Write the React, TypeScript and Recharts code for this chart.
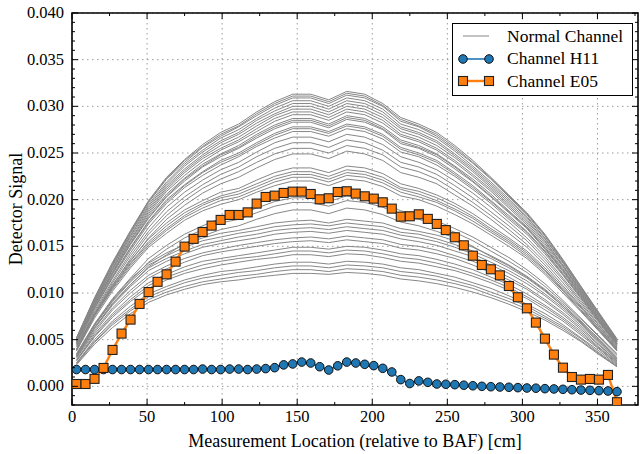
import { CartesianGrid, Label, Legend, Line, LineChart, ReferenceArea, XAxis, YAxis } from "recharts"

// measurement positions along the channel [cm]
const positions = [
  3, 9, 15, 21, 27, 33, 39, 45, 51, 57, 63, 69, 75, 81, 87, 93, 99, 105, 111, 117, 123,
  129, 135, 141, 147, 153, 159, 165, 171, 177, 183, 189, 195, 201, 207, 213, 219, 225,
  231, 237, 243, 249, 255, 261, 267, 273, 279, 285, 291, 297, 303, 309, 315, 321, 327,
  333, 339, 345, 351, 357, 363,
]

const channelH11 = [
  0.0018, 0.0018, 0.0018, 0.0018, 0.0018, 0.0018, 0.0018, 0.0018, 0.0018, 0.0018, 0.0018,
  0.0018, 0.0018, 0.0018, 0.00185, 0.0018, 0.0018, 0.00185, 0.00185, 0.0018, 0.00185,
  0.0019, 0.002, 0.0023, 0.0024, 0.0026, 0.0025, 0.0021, 0.00175, 0.0022, 0.0026, 0.0025,
  0.00236, 0.00222, 0.00193, 0.00154, 0.00072, 0.0003, 0.00058, 0.00043, 0.00025, 0.00022,
  0.00018, 0.00012, 0.00006, 0.0, -0.00004, -0.00007, -0.0001, -0.00014, -0.00018, -0.0002,
  -0.00025, -0.00028, -0.00032, -0.00036, -0.0004, -0.00043, -0.00046, -0.0005, -0.00057,
]

const channelE05 = [
  0.00025, 0.00025, 0.0008, 0.00197, 0.0039, 0.00565, 0.00715, 0.00883, 0.0101, 0.0112,
  0.012, 0.01336, 0.01497, 0.0158, 0.01654, 0.01722, 0.01783, 0.01836, 0.01836, 0.01864,
  0.01958, 0.02029, 0.02043, 0.02072, 0.02086, 0.02086, 0.02061, 0.02004, 0.02015, 0.02082,
  0.0209, 0.02065, 0.02036, 0.02011, 0.01972, 0.01904, 0.01818, 0.01822, 0.01843, 0.01794,
  0.0174, 0.01674, 0.01597, 0.01511, 0.014, 0.013, 0.01254, 0.01189, 0.01075, 0.00954,
  0.00836, 0.00683, 0.00511, 0.0034, 0.002, 0.001, 0.00072, 0.00079, 0.00072, 0.00122, -0.0017,
]

// normal channels, sampled every 12 cm, values in units of 1e-4
const normalPositions = [
  3, 15, 27, 39, 51, 63, 75, 87, 99, 111, 123, 135, 147, 159, 171, 183, 195, 207, 219, 231,
  243, 255, 267, 279, 291, 303, 315, 327, 339, 351, 363,
]

const normalChannels = [
  [52,95,133,167,199,224,243,259,272,281,294,305,313,313,307,316,313,303,288,281,272,258,242,224,205,186,163,136,107,79,51],
  [52,94,132,166,198,223,242,257,270,279,292,303,311,311,305,314,311,301,286,279,270,256,240,223,204,185,162,135,107,78,50],
  [51,94,131,165,197,222,240,256,268,278,290,301,309,309,303,312,309,300,284,278,268,254,239,222,203,184,161,134,106,78,50],
  [51,93,130,164,195,219,238,253,266,275,287,298,306,306,300,309,306,297,281,275,266,252,236,219,201,182,159,133,105,77,49],
  [50,92,129,162,193,217,236,251,263,272,285,295,303,303,297,306,303,294,278,272,263,249,234,217,199,181,158,132,104,77,49],
  [50,91,127,161,191,215,233,248,261,270,282,292,300,300,294,303,300,291,276,270,261,247,232,215,197,179,156,130,103,76,48],
  [50,90,126,159,189,213,231,246,258,267,279,290,297,297,291,300,297,288,273,267,258,245,230,213,195,177,155,129,102,75,48],
  [49,89,125,157,187,211,229,244,255,264,276,287,294,294,288,297,294,285,270,264,255,242,227,211,193,175,153,128,101,74,48],
  [49,88,123,156,185,209,226,241,253,262,273,284,291,291,285,294,291,282,268,262,253,240,225,209,191,173,151,126,100,73,47],
  [48,87,122,154,183,206,223,238,249,258,270,280,287,287,281,290,287,278,264,258,249,236,222,206,188,171,149,125,99,72,46],
  [48,86,121,153,181,204,222,236,248,256,268,278,285,285,279,288,285,276,262,256,248,235,220,204,187,170,148,124,98,72,46],
  [47,86,120,152,180,203,220,235,246,255,266,276,283,283,277,286,283,275,260,255,246,233,219,203,186,169,147,123,97,71,46],
  [46,84,118,149,177,200,216,230,242,250,261,271,278,278,273,281,278,270,256,250,242,229,215,199,183,166,145,121,96,70,45],
  [46,84,117,148,176,198,215,229,240,248,259,269,276,276,271,279,276,268,254,248,240,227,213,198,181,165,144,120,95,70,45],
  [46,83,116,146,174,196,213,226,237,246,257,266,273,273,268,276,273,265,251,246,237,225,211,196,179,163,142,119,94,69,44],
  [45,81,113,143,170,192,208,221,232,240,251,261,267,267,262,270,267,259,246,240,232,220,207,192,176,159,139,116,92,68,43],
  [44,79,111,140,166,187,203,216,227,235,246,255,261,261,256,264,261,253,240,235,227,215,202,187,172,156,136,114,90,66,42],
  [43,77,108,137,163,183,199,212,222,230,240,249,255,255,250,258,255,248,235,230,222,210,197,183,168,152,133,111,88,65,41],
  [42,76,106,134,159,179,194,207,217,224,234,243,249,249,244,252,249,242,229,224,217,205,193,179,164,149,130,108,86,63,40],
  [40,78,109,135,158,175,189,199,208,212,221,229,234,234,229,236,234,228,217,212,205,196,185,172,159,145,127,106,85,63,40],
  [39,77,107,132,155,172,186,196,204,209,217,225,230,230,225,232,230,224,213,209,202,193,182,169,157,143,125,104,84,61,39],
  [39,76,105,131,153,169,183,194,202,206,214,222,227,227,222,229,227,221,211,206,199,190,180,167,155,141,124,103,82,61,39],
  [38,75,104,129,151,167,181,191,199,203,211,219,224,224,219,226,224,218,208,203,197,188,177,165,153,139,122,102,81,60,38],
  [38,73,102,127,149,164,178,188,195,200,208,215,220,220,215,222,220,214,204,200,193,184,174,162,150,137,120,100,80,59,38],
  [35,67,94,116,137,151,163,172,180,184,191,198,202,202,198,204,202,197,188,184,177,169,160,149,138,125,110,92,73,54,35],
  [34,66,92,113,133,147,159,168,175,179,186,193,197,197,193,199,197,192,183,179,173,165,156,145,134,122,107,90,72,53,34],
  [32,63,88,109,128,141,153,161,168,172,179,185,189,189,185,191,189,184,176,172,166,159,150,139,129,117,103,86,69,51,32],
  [34,66,93,115,132,143,152,159,164,167,171,175,177,178,175,179,177,175,169,166,162,156,149,140,130,118,104,88,70,50,30],
  [33,65,91,112,130,140,149,156,160,164,167,171,173,174,172,175,173,171,165,163,158,152,145,137,127,116,102,86,68,49,30],
  [32,63,89,109,127,137,145,152,156,160,163,167,169,170,168,171,169,167,162,159,155,149,142,133,124,113,99,84,67,48,29],
  [32,62,87,107,124,134,142,149,153,156,159,163,165,166,164,167,165,163,158,155,151,145,139,130,121,110,97,82,65,47,28],
  [31,60,84,103,119,129,137,143,147,151,154,157,159,160,158,161,159,157,152,150,146,140,134,126,117,106,93,79,63,45,27],
  [30,58,82,100,116,126,133,140,144,147,150,153,155,156,154,157,155,153,148,146,142,137,130,122,114,104,91,77,61,44,27],
  [28,56,78,96,111,120,128,134,137,140,143,146,149,149,147,150,149,146,142,140,136,131,125,117,109,99,87,74,59,42,26],
  [28,54,76,93,108,117,124,130,134,137,139,142,145,145,143,146,145,142,138,136,132,127,121,114,106,96,85,72,57,41,25],
  [27,53,74,91,105,114,121,126,130,133,136,138,141,141,139,142,141,138,134,132,128,124,118,111,103,94,82,70,55,40,24],
  [25,50,70,86,99,107,114,119,123,125,128,131,133,133,131,134,133,131,127,125,121,117,111,105,97,88,78,66,52,38,23],
  [25,48,68,83,96,104,111,116,119,122,124,127,129,129,127,130,129,127,123,121,118,113,108,101,94,86,75,64,51,36,22],
  [24,47,66,81,93,101,107,112,115,118,120,123,125,125,123,126,125,123,119,117,114,110,105,98,91,83,73,62,49,35,21],
  [23,45,63,78,90,98,104,109,112,114,117,119,121,121,120,122,121,119,115,113,110,106,101,95,88,80,71,60,48,34,21],
]

const xMajorTicks = [0, 50, 100, 150, 200, 250, 300, 350]
const xAllTicks = [0, 25, 50, 75, 100, 125, 150, 175, 200, 225, 250, 275, 300, 325, 350, 375]
const yMajorTicks = [0, 0.005, 0.01, 0.015, 0.02, 0.025, 0.03, 0.035, 0.04]
const yAllTicks = [
  -0.002, -0.001, 0, 0.001, 0.002, 0.003, 0.004, 0.005, 0.006, 0.007, 0.008, 0.009, 0.01,
  0.011, 0.012, 0.013, 0.014, 0.015, 0.016, 0.017, 0.018, 0.019, 0.02, 0.021, 0.022, 0.023,
  0.024, 0.025, 0.026, 0.027, 0.028, 0.029, 0.03, 0.031, 0.032, 0.033, 0.034, 0.035, 0.036,
  0.037, 0.038, 0.039, 0.04,
]

const FONT = "'Liberation Serif', 'DejaVu Serif', serif"
const BLUE = "#1f77b4"
const ORANGE = "#ff7f0e"
const GREY = "#878787"

const W = 640
const H = 454
const PLOT = { left: 72, top: 13, right: 638, bottom: 405 }

const mainRows = positions.map((x, i) => ({ x, h11: channelH11[i], e05: channelE05[i] }))
const normalRows = normalPositions.map((x, i) => {
  const row: Record<string, number> = { x }
  normalChannels.forEach((ch, j) => {
    row[`n${j}`] = ch[i] * 1e-4
  })
  return row
})

const isMajor = (list: number[], v: number) => list.some((m) => Math.abs(m - v) < 1e-9)

function XTick({ x, payload }: any) {
  const v = payload.value
  const major = isMajor(xMajorTicks, v)
  const len = major ? 6 : 3
  return (
    <g>
      <line x1={x} x2={x} y1={PLOT.bottom} y2={PLOT.bottom - len} stroke="#000" strokeWidth={1} />
      <line x1={x} x2={x} y1={PLOT.top} y2={PLOT.top + len} stroke="#000" strokeWidth={1} />
      {major && (
        <text x={x} y={PLOT.bottom + 17} textAnchor="middle" fontFamily={FONT} fontSize={16.5} fill="#000">
          {v}
        </text>
      )}
    </g>
  )
}

function YTick({ y, payload }: any) {
  const v = payload.value
  const major = isMajor(yMajorTicks, v)
  const len = major ? 6 : 3
  return (
    <g>
      <line x1={PLOT.left} x2={PLOT.left + len} y1={y} y2={y} stroke="#000" strokeWidth={1} />
      <line x1={PLOT.right} x2={PLOT.right - len} y1={y} y2={y} stroke="#000" strokeWidth={1} />
      {major && (
        <text x={PLOT.left - 8} y={y + 5} textAnchor="end" fontFamily={FONT} fontSize={16.5} fill="#000">
          {v.toFixed(3)}
        </text>
      )}
    </g>
  )
}

function Square(props: any) {
  const { cx, cy, index } = props
  if (cx == null || cy == null) return <g key={`s${index}`} />
  return (
    <rect key={`s${index}`} x={cx - 4.5} y={cy - 4.5} width={9} height={9} fill={ORANGE} stroke="#222" strokeWidth={1.1} />
  )
}

function LegendBox() {
  const rows = [
    { name: "Normal Channel", kind: "grey" },
    { name: "Channel H11", kind: "h11" },
    { name: "Channel E05", kind: "e05" },
  ]
  return (
    <div
      style={{
        width: 181,
        height: 73,
        boxSizing: "border-box",
        border: "1px solid #000",
        background: "#fff",
        paddingTop: 1,
        fontFamily: FONT,
        fontSize: 17.5,
      }}
    >
      {rows.map((r) => (
        <div key={r.name} style={{ height: 22.5, display: "flex", alignItems: "center" }}>
          <svg width={54} height={22} style={{ flex: "none" }}>
            {r.kind === "grey" && <line x1={10} x2={36} y1={11} y2={11} stroke={GREY} strokeWidth={1} />}
            {r.kind === "h11" && (
              <g>
                <line x1={10} x2={36} y1={11} y2={11} stroke={BLUE} strokeWidth={1.6} />
                <circle cx={10} cy={11} r={4.3} fill={BLUE} stroke="#111" strokeWidth={1} />
                <circle cx={36} cy={11} r={4.3} fill={BLUE} stroke="#111" strokeWidth={1} />
              </g>
            )}
            {r.kind === "e05" && (
              <g>
                <line x1={10} x2={36} y1={11} y2={11} stroke={ORANGE} strokeWidth={2.4} />
                <rect x={5.5} y={6.5} width={9} height={9} fill={ORANGE} stroke="#222" strokeWidth={1.1} />
                <rect x={31.5} y={6.5} width={9} height={9} fill={ORANGE} stroke="#222" strokeWidth={1.1} />
              </g>
            )}
          </svg>
          <span style={{ lineHeight: 1 }}>{r.name}</span>
        </div>
      ))}
    </div>
  )
}

export default function App() {
  return (
    <div style={{ position: "absolute", left: 0, top: 0, width: W, height: H, background: "#fff" }}>
      <LineChart
        width={W}
        height={H}
        margin={{ top: PLOT.top, right: W - PLOT.right, left: 8, bottom: 0 }}
      >
        <CartesianGrid
          stroke="#9a9a9a"
          strokeDasharray="1.5 3.5"
          horizontalValues={yMajorTicks}
          verticalValues={xMajorTicks}
        />
        <XAxis
          dataKey="x"
          type="number"
          domain={[0, 377]}
          ticks={xAllTicks}
          interval={0}
          allowDataOverflow
          axisLine={false}
          tickLine={false}
          tickSize={0}
          height={49}
          tick={<XTick />}
        >
          <Label
            value="Measurement Location (relative to BAF) [cm]"
            position="insideBottom"
            offset={7}
            style={{ fontFamily: FONT, fontSize: 18, fill: "#000" }}
          />
        </XAxis>
        <YAxis
          type="number"
          domain={[-0.002, 0.04]}
          ticks={yAllTicks}
          interval={0}
          allowDataOverflow
          axisLine={false}
          tickLine={false}
          tickSize={0}
          width={64}
          tick={<YTick />}
        >
          <Label
            value="Detector Signal"
            angle={-90}
            position="insideLeft"
            offset={8}
            style={{ fontFamily: FONT, fontSize: 18, fill: "#000", textAnchor: "middle" }}
          />
        </YAxis>
        {normalChannels.map((_, j) => (
          <Line
            key={`n${j}`}
            data={normalRows}
            dataKey={`n${j}`}
            stroke={GREY}
            strokeWidth={1}
            dot={false}
            activeDot={false}
            isAnimationActive={false}
            legendType="none"
          />
        ))}
        <Line
          data={mainRows}
          dataKey="h11"
          name="Channel H11"
          stroke={BLUE}
          strokeWidth={1.6}
          dot={{ r: 4.3, fill: BLUE, stroke: "#111", strokeWidth: 1 }}
          activeDot={false}
          isAnimationActive={false}
        />
        <Line
          data={mainRows}
          dataKey="e05"
          name="Channel E05"
          stroke={ORANGE}
          strokeWidth={2.4}
          dot={Square}
          activeDot={false}
          isAnimationActive={false}
        />
        <ReferenceArea
          x1={0}
          x2={377}
          y1={-0.002}
          y2={0.04}
          fill="none"
          stroke="#000"
          strokeWidth={1.6}
          ifOverflow="visible"
        />
        <Legend
          layout="vertical"
          align="center"
          verticalAlign="middle"
          wrapperStyle={{ left: 452, top: 23, width: 181 }}
          content={() => <LegendBox />}
        />
      </LineChart>
    </div>
  )
}
